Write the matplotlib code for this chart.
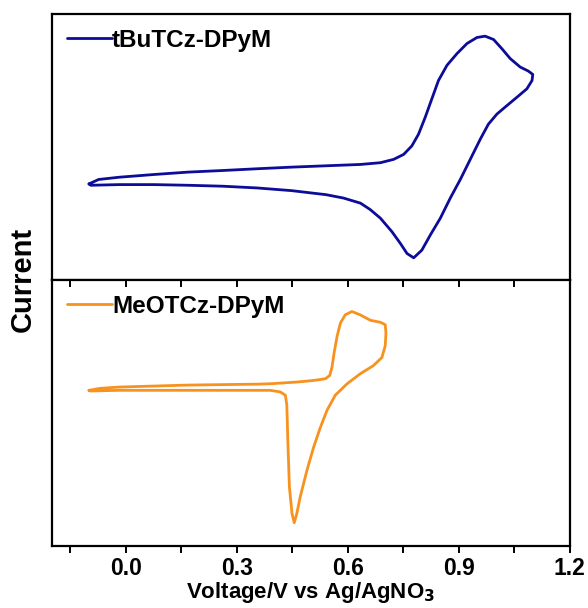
import matplotlib
matplotlib.use("Agg")
import matplotlib.pyplot as plt
from matplotlib.ticker import MultipleLocator

plt.rcParams['font.family'] = ['Liberation Sans', 'DejaVu Sans']
plt.rcParams['font.weight'] = 'bold'
plt.rcParams['mathtext.default'] = 'bf'

# --- tBuTCz-DPyM (forward sweep then reverse sweep), arbitrary current units ---
tbu_v = [-0.100, -0.074, -0.018, 0.075, 0.168, 0.262, 0.355, 0.448, 0.541, 0.634,
         0.688, 0.724, 0.751, 0.773, 0.791, 0.809, 0.827, 0.845, 0.868, 0.895,
         0.922, 0.949, 0.971, 0.994, 1.016, 1.039, 1.066, 1.088, 1.100,
         1.098, 1.084, 1.057, 1.030, 1.003, 0.980, 0.958, 0.931, 0.904, 0.877,
         0.850, 0.823, 0.800, 0.778, 0.760, 0.742, 0.719, 0.688, 0.660, 0.634,
         0.588, 0.541, 0.448, 0.355, 0.262, 0.168, 0.075, -0.018, -0.095, -0.100]
tbu_i = [0.30, 0.63, 0.80, 1.00, 1.18, 1.30, 1.43, 1.55, 1.65, 1.75,
         1.88, 2.13, 2.50, 3.13, 4.00, 5.25, 6.63, 8.00, 9.13, 10.00,
         10.75, 11.20, 11.30, 11.05, 10.38, 9.63, 9.00, 8.70, 8.45,
         8.00, 7.38, 6.75, 6.13, 5.50, 4.75, 3.63, 2.13, 0.63, -0.75,
         -2.25, -3.50, -4.63, -5.20, -4.88, -4.13, -3.25, -2.25, -1.60, -1.13,
         -0.75, -0.50, -0.20, 0.00, 0.13, 0.20, 0.25, 0.25, 0.20, 0.30]

# --- MeOTCz-DPyM ---
meo_v = [-0.100, -0.070, -0.018, 0.168, 0.355, 0.390, 0.462, 0.507, 0.539, 0.551,
         0.557, 0.563, 0.571, 0.580, 0.593, 0.611, 0.633, 0.661, 0.688, 0.701,
         0.703, 0.701, 0.692, 0.669, 0.633, 0.598, 0.566, 0.544, 0.525, 0.507,
         0.489, 0.471, 0.462, 0.455, 0.449, 0.442, 0.438, 0.435, 0.431, 0.417,
         0.390, 0.355, 0.168, -0.018, -0.097, -0.100]
meo_i = [5.00, 5.15, 5.25, 5.40, 5.47, 5.50, 5.63, 5.75, 5.88, 6.13,
         6.75, 7.88, 9.13, 10.13, 10.75, 11.00, 10.75, 10.33, 10.18, 10.00,
         9.38, 8.38, 7.50, 6.88, 6.25, 5.50, 4.63, 3.50, 2.13, 0.63,
         -1.13, -3.13, -4.38, -5.08, -4.38, -2.38, 0.88, 3.88, 4.63, 4.88,
         5.00, 5.00, 5.00, 5.00, 4.95, 5.00]

labels = ['tBuTCz-DPyM', 'MeOTCz-DPyM']
colors = ['#0c0c98', '#f7921e']
x_major = [0.0, 0.3, 0.6, 0.9, 1.2]

fig = plt.figure(figsize=(5.88, 6.08), dpi=100)
gs = fig.add_gridspec(2, 1, hspace=0, left=0.0884, right=0.969, top=0.977, bottom=0.102)
ax1 = fig.add_subplot(gs[0])
ax2 = fig.add_subplot(gs[1], sharex=ax1)

ax1.plot(tbu_v, tbu_i, color=colors[0], lw=2.0, label=labels[0],
         solid_joinstyle='round', solid_capstyle='round')
ax2.plot(meo_v, meo_i, color=colors[1], lw=2.0, label=labels[1],
         solid_joinstyle='round', solid_capstyle='round')

ax1.set_ylim(-6.85, 12.95)
ax2.set_ylim(-6.85, 13.4)
for ax in (ax1, ax2):
    ax.set_yticks([])
    for s in ax.spines.values():
        s.set_linewidth(1.6)
    leg = ax.legend(loc='upper left', frameon=False, fontsize=17.5, handlelength=1.85,
                    handletextpad=0.02, borderaxespad=0.35, borderpad=0.25,
                    bbox_to_anchor=(0.0, 1.0))
    for t in leg.get_texts():
        t.set_fontweight('bold')

ax1.set_xlim(-0.2, 1.2)
ax1.tick_params(axis='x', which='both', bottom=False, labelbottom=False)
ax2.xaxis.set_major_locator(MultipleLocator(0.3))
ax2.xaxis.set_minor_locator(MultipleLocator(0.15))
ax2.set_xticks(x_major)
ax2.set_xticklabels([f'{v:.1f}' for v in x_major])
ax2.tick_params(axis='x', which='both', direction='out', length=5, width=1.4,
                top=True, labelsize=16.5, pad=3)
for lab in ax2.get_xticklabels():
    lab.set_fontweight('bold')
# top ticks of lower panel point inward
for tick in ax2.xaxis.get_major_ticks() + ax2.xaxis.get_minor_ticks():
    tick.tick2line.set_marker(3)  # TICKDOWN
    tick.tick2line.set_markersize(5)

ax2.set_xlabel('Voltage/V vs Ag/AgNO$_3$', fontsize=16, fontweight='bold', labelpad=0)
fig.text(0.038, 0.54, 'Current', rotation=90, ha='center', va='center',
         fontsize=21, fontweight='bold')

fig.savefig('out.png', dpi=100)
